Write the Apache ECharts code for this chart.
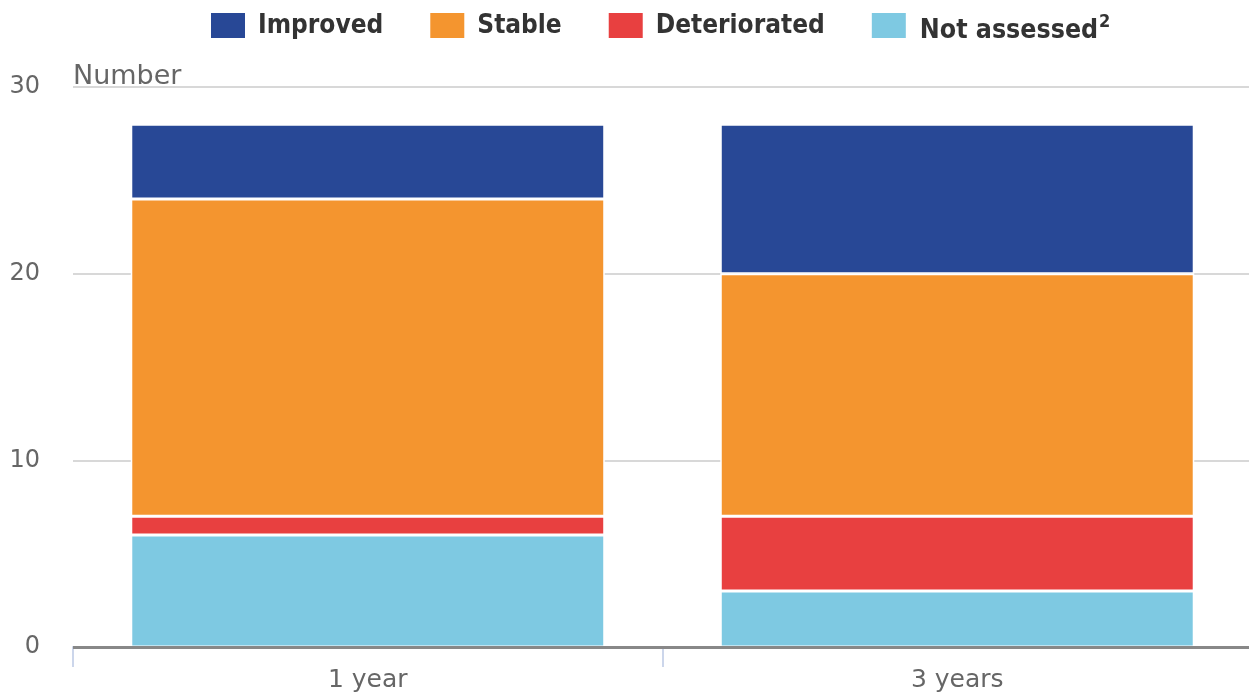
<!DOCTYPE html>
<html>
<head>
<meta charset="utf-8">
<script src="https://cdn.jsdelivr.net/npm/echarts@6/dist/echarts.min.js"></script>
<style>
  html, body { margin: 0; padding: 0; background: #fff; }
  #chart { width: 1249px; height: 696px; }
</style>
</head>
<body>
<div id="chart"></div>
<script>
const categories = ["1 year", "3 years"];
const notAssessed = [6, 3];
const deteriorated = [1, 4];
const stable = [17, 13];
const improved = [4, 8];
const yTicks = [0, 10, 20, 30];

const chart = echarts.init(document.getElementById("chart"));

function barSeries(name, data, color) {
  return {
    name: name,
    type: "bar",
    stack: "total",
    barWidth: "80.4%",
    data: data,
    itemStyle: { color: color, borderColor: "#fff", borderWidth: 1.5 },
  };
}

const option = {
  animation: false,
  textStyle: { fontFamily: "DejaVu Sans" },
  legend: {
    top: 6,
    left: 204,
    itemWidth: 36,
    itemHeight: 27,
    itemGap: 45,
    icon: "rect",
    data: ["Improved", "Stable", "Deteriorated", "Not assessed"],
    formatter: function (name) {
      return name === "Not assessed" ? "{t2|Not assessed}{s|2}" : "{t|" + name + "}";
    },
    textStyle: {
      rich: {
        t: { fontFamily: "DejaVu Sans Condensed", fontWeight: "bold", fontSize: 26, color: "#333", padding: [2, 0, 0, 7] },
        t2: { fontFamily: "DejaVu Sans Condensed", fontWeight: "bold", fontSize: 26.5, color: "#333", padding: [12, 0, 0, 8] },
        s: { fontFamily: "DejaVu Sans Condensed", fontWeight: "bold", fontSize: 18, color: "#333", padding: [0, 0, 6, 1] },
      },
    },
  },
  grid: { left: 73, width: 1179, top: 87, bottom: 49, containLabel: false, outerBoundsMode: "none" },
  graphic: [
    {
      type: "text",
      left: 73,
      top: 63,
      style: { text: "Number", fontFamily: "DejaVu Sans", fontSize: 27, fill: "#666" },
    },
  ],
  xAxis: {
    type: "category",
    data: categories,
    axisLine: { show: true, lineStyle: { color: "#ccd6eb", width: 2 } },
    axisTick: { show: true, length: 20, lineStyle: { color: "#ccd6eb", width: 2 } },
    axisLabel: { fontSize: 25, color: "#666", margin: 21, fontFamily: "DejaVu Sans" },
  },
  yAxis: {
    type: "value",
    min: 0,
    max: 30,
    interval: 10,
    axisLine: { show: false },
    axisTick: { show: false },
    axisLabel: {
      fontSize: 24,
      color: "#666",
      margin: 33,
      fontFamily: "DejaVu Sans",
      customValues: yTicks,
    },
    splitLine: { lineStyle: { color: "#d8d8d8", width: 2 } },
  },
  series: [
    barSeries("Not assessed", notAssessed, "#7ec9e2"),
    barSeries("Deteriorated", deteriorated, "#e84040"),
    barSeries("Stable", stable, "#f4952f"),
    barSeries("Improved", improved, "#284896"),
    {
      type: "line",
      data: [],
      silent: true,
      z: 1,
      markLine: {
        symbol: "none",
        silent: true,
        label: { show: false },
        lineStyle: { color: "#888", width: 3, type: "solid" },
        data: [{ yAxis: 0 }],
      },
    },
  ],
};

chart.setOption(option);
</script>
</body>
</html>
